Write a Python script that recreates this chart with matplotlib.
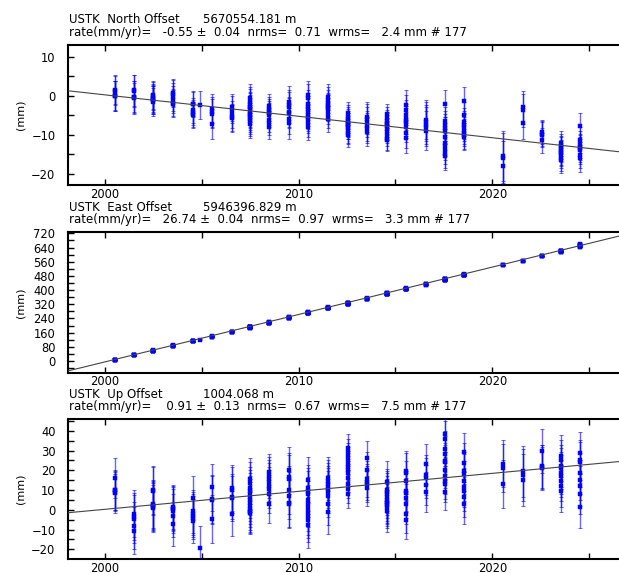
import matplotlib
matplotlib.use('Agg')
import matplotlib.pyplot as plt
import numpy as np
from matplotlib.ticker import MultipleLocator, FixedLocator

plt.rcParams['font.family'] = ['DejaVu Sans']
plt.rcParams['font.size'] = 8

# ---------------- data ----------------
epochs = [2000.52, 2001.50, 2002.50, 2003.53, 2004.53, 2004.92, 2005.52, 2006.54,
          2007.49, 2008.48, 2009.50, 2010.50, 2011.53, 2012.53, 2013.54, 2014.54,
          2015.54, 2016.56, 2017.55, 2018.55, 2020.53, 2021.56, 2022.54, 2023.53,
          2024.52]

north_vals = [
    [1.6, 1.3, 0.0, -0.1, 0.1],
    [1.4, 1.2, -0.3, -0.6, -0.2],
    [0.0, -0.5, -1.2, -1.5, 0.2, -0.8, -1.0],
    [0.8, 0.5, -2.0, -1.8, -1.0, -0.3],
    [-2.2, -3.7, -4.2, -4.8, -5.0, -2.0],
    [-2.4],
    [-3.3, -4.6, -7.3, -4.2],
    [-3.0, -5.5, -5.8, -4.8, -3.6],
    [-0.7, -1.5, -2.8, -3.5, -4.2, -5.0, -6.0, -7.2, -3.0, -2.0, -4.6, -6.5, -5.5],
    [-2.7, -3.5, -4.0, -5.0, -7.0, -7.9, -6.2, -4.5],
    [-1.5, -2.4, -4.1, -4.5, -7.1, -6.0, -3.0],
    [0.2, -0.5, -2.8, -3.5, -5.0, -6.0, -7.0, -7.9, -4.2, -2.0, -5.5],
    [-0.3, -1.0, -1.8, -2.5, -3.2, -4.0, -5.0, -6.0, -2.8],
    [-4.5, -5.5, -6.5, -7.0, -7.5, -8.2, -9.0, -9.5, -10.1, -8.0, -7.3, -6.0],
    [-5.4, -6.0, -7.8, -9.2, -8.3, -6.8],
    [-4.8, -5.6, -6.4, -7.2, -7.8, -8.5, -9.3, -10.2, -11.0, -11.4, -6.9],
    [-2.4, -3.7, -5.0, -6.0, -7.0, -8.0, -9.5, -10.8, -6.5],
    [-6.2, -6.7, -9.0, -8.0, -7.4],
    [-2.0, -6.5, -7.5, -8.2, -9.0, -10.5, -12.0, -13.0, -14.0, -15.0, -15.5],
    [-1.3, -5.0, -6.7, -8.0, -9.0, -10.1, -10.5, -9.5, -7.5],
    [-15.5, -18.0, -16.0],
    [-3.7, -3.0, -6.9],
    [-9.3, -9.7, -11.4, -10.0],
    [-12.2, -13.0, -13.8, -14.5, -15.3, -16.0, -16.5, -13.5, -14.8],
    [-7.8, -11.4, -12.5, -13.1, -14.0, -15.2, -16.1, -13.5],
]
north_sig = [3.8, 4.0, 3.6, 3.5, 3.2, 3.5, 3.8, 3.5, 3.7, 3.1, 3.9, 3.5, 3.3,
             3.0, 3.8, 2.8, 3.8, 5.0, 3.5, 3.5, 6.5, 4.2, 3.2, 3.2, 3.4]

east_vals = [
    [6, 5, 7, 8, 6],
    [33, 34, 32, 35, 33],
    [58, 59, 57, 60, 58, 59, 57],
    [86, 87, 85, 88, 86, 87],
    [112, 113, 111, 114, 112, 113],
    [120],
    [138, 139, 137, 138],
    [165, 164, 166, 163, 165],
    [190, 188, 192, 189, 191, 187, 190, 189, 193, 188, 190, 191, 189],
    [217, 215, 219, 216, 218, 214, 217, 216],
    [245, 244, 246, 243, 245, 247, 244],
    [272, 270, 274, 271, 273, 269, 272, 271, 275, 270, 272],
    [300, 298, 301, 299, 297, 300, 302, 299, 298],
    [325, 323, 327, 322, 324, 326, 321, 325, 323, 328, 324, 322],
    [352, 350, 353, 351, 349, 352],
    [380, 378, 382, 377, 379, 381, 378, 380, 376, 379, 381],
    [407, 405, 408, 406, 404, 407, 409, 405, 406],
    [433, 431, 434, 432, 430],
    [460, 458, 462, 457, 459, 461, 456, 460, 458, 463, 459],
    [486, 484, 488, 485, 483, 487, 486, 484, 485],
    [542, 540, 541],
    [565, 563, 564],
    [593, 591, 594, 592],
    [619, 617, 620, 618, 616, 619, 618, 617, 620],
    [644, 646, 656, 658, 654, 645, 657, 647],
]
east_sig = [2.0] * 25

up_vals = [
    [16.0, 10.0, 9.2, 8.3, 9.8],
    [-2.0, -3.5, -4.7, -10.6, -8.0],
    [10.0, 9.5, 2.0, 0.8, 1.5, 3.0, 2.5],
    [1.5, 1.0, 0.3, -0.5, -3.0, -7.2],
    [5.9, -0.8, -2.0, -3.0, -5.6, -4.0],
    [-19.4],
    [11.3, 5.4, 5.0, -4.7],
    [11.0, 10.0, 6.6, 5.8, -1.9],
    [15.5, 13.5, 11.0, 9.5, 8.0, 6.5, 5.0, 3.5, 2.0, 0.5, -0.5, -1.0, -1.5],
    [18.9, 17.0, 15.5, 14.0, 10.4, 12.0, 8.0, 3.0],
    [16.7, 15.5, 10.0, 7.1, 3.5, 2.9, 20.0],
    [11.0, 9.6, 8.0, 5.0, 2.9, 1.0, -1.3, -3.0, -5.0, -7.6, 15.0],
    [16.0, 14.5, 13.0, 11.5, 10.4, 9.0, 7.0, 3.0, -1.3],
    [31.5, 29.0, 27.0, 25.0, 23.0, 21.5, 20.0, 18.5, 16.0, 13.0, 10.5, 7.9],
    [26.0, 20.2, 15.5, 14.0, 13.0, 11.0],
    [14.3, 10.0, 8.0, 6.5, 5.0, 3.5, 1.2, -0.5, 9.0, 4.0, 2.5],
    [19.7, 18.5, 14.7, 9.6, 8.7, 6.0, 3.0, -1.9, -5.0],
    [23.1, 17.7, 16.0, 12.6, 9.0],
    [38.3, 35.7, 31.0, 28.1, 24.8, 24.0, 20.0, 17.2, 14.7, 13.0, 9.0],
    [29.0, 23.9, 19.4, 18.0, 14.5, 11.3, 9.6, 6.6, 3.0],
    [23.4, 21.1, 13.0],
    [19.4, 17.7, 15.0],
    [29.8, 22.0, 21.7, 21.0],
    [27.2, 25.0, 22.2, 21.0, 18.5, 17.0, 14.7, 12.0, 9.5],
    [28.9, 25.2, 24.0, 18.5, 15.1, 12.0, 8.0, 1.2],
]
up_sig = [10.0, 12.0, 12.0, 11.0, 11.0, 11.0, 12.0, 11.5, 10.5, 9.5, 12.0, 11.5,
          10.8, 7.0, 9.0, 10.5, 10.0, 10.0, 9.0, 10.0, 12.0, 13.0, 11.0, 10.5, 10.3]

# trend line: value at 2000.0 and rate (mm/yr)
trend_at_2000 = [0.23, -5.0, 0.25]
rates = [-0.55, 26.74, 0.91]

site = "USTK"
components = ["North", "East", "Up"]
offsets = ["5670554.181 m", "5946396.829 m", "1004.068 m"]
rate_lines = [
    "rate(mm/yr)=   -0.55 \u00b1  0.04  nrms=  0.71  wrms=   2.4 mm # 177",
    "rate(mm/yr)=   26.74 \u00b1  0.04  nrms=  0.97  wrms=   3.3 mm # 177",
    "rate(mm/yr)=    0.91 \u00b1  0.13  nrms=  0.67  wrms=   7.5 mm # 177",
]

# ---------------- layout ----------------
W, H = 619, 573
fig = plt.figure(figsize=(W / 100, H / 100), dpi=100)

panel_px = [(44.7, 185.0), (232.3, 372.7), (419.3, 559.0)]
ylims = [(-22.9, 13.1), (-66, 726), (-24.9, 45.8)]
ymajor = [10, 80, 10]
yminor = [5, 40, 5]
xlim = (1998.09, 2026.8)
left_px, right_px = 68, 624
title_fs = 8.5

all_vals = [north_vals, east_vals, up_vals]
all_sig = [north_sig, east_sig, up_sig]

for i in range(3):
    top, bot = panel_px[i]
    ax = fig.add_axes([left_px / W, 1 - bot / H, (right_px - left_px) / W, (bot - top) / H])
    vals = all_vals[i]
    sigs = all_sig[i]
    for t, v, s in zip(epochs, vals, sigs):
        xs = [t] * len(v)
        ax.errorbar(xs, v, yerr=s, fmt='none', ecolor='#0000ff', elinewidth=1.0,
                    capsize=1.6, capthick=0.7, alpha=0.6, zorder=3)
        ax.plot(xs, v, 's', ms=2.5, mfc='#0000ff', mec='#0000ff', mew=0.3, zorder=3.5)
    xl = np.array(xlim)
    ax.plot(xl, trend_at_2000[i] + rates[i] * (xl - 2000.0), color='#444444', lw=0.8, zorder=4)
    ax.set_xlim(*xlim)
    ax.set_ylim(*ylims[i])
    ax.xaxis.set_major_locator(FixedLocator([2000, 2010, 2020]))
    ax.xaxis.set_minor_locator(FixedLocator([2005, 2015, 2025]))
    ax.yaxis.set_major_locator(MultipleLocator(ymajor[i]))
    ax.yaxis.set_minor_locator(MultipleLocator(yminor[i]))
    ax.tick_params(axis='both', which='both', direction='in', length=4, width=1,
                   top=True, right=False, labelsize=8.3)
    ax.tick_params(axis='x', which='both', pad=1.8)
    ax.tick_params(axis='y', which='both', pad=9)
    for sp in ax.spines.values():
        sp.set_linewidth(1.5)
    ax.set_ylabel("(mm)", fontsize=8)
    ax.yaxis.set_label_coords(-(68 - 25) / (right_px - left_px), 0.5)
    fig.text(69 / W, 1 - (top - 25) / H, f"{site}  {components[i]} Offset", fontsize=title_fs,
             ha='left', va='center')
    fig.text(203 / W, 1 - (top - 25) / H, offsets[i], fontsize=title_fs, ha='left', va='center')
    fig.text(69 / W, 1 - (top - 12.5) / H, rate_lines[i], fontsize=title_fs, ha='left', va='center')

fig.savefig("out.png", dpi=100)
